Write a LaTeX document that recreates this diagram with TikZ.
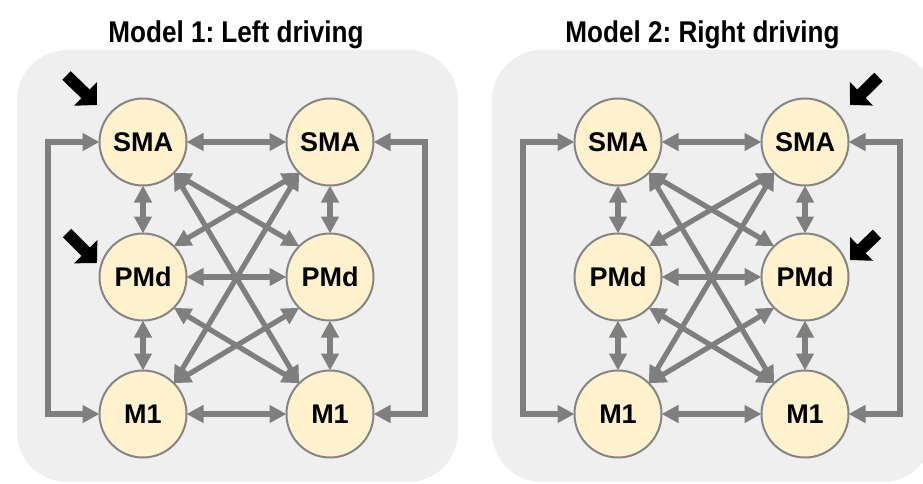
\documentclass[tikz,border=0pt]{standalone}
\usepackage{fontspec}
\setmainfont{Liberation Sans}
\usetikzlibrary{arrows.meta}
\frenchspacing
\definecolor{panelbg}{HTML}{EFEFEF}
\definecolor{nodefill}{HTML}{FFF2CC}
\definecolor{nodeline}{HTML}{858585}
\definecolor{connc}{HTML}{7F7F7F}
\tikzset{
 area/.style={circle, draw=nodeline, line width=2pt, fill=nodefill, minimum size=87pt,
   inner sep=0pt, outer sep=0pt, font=\fontsize{27}{29}\selectfont\bfseries},
 link/.style={draw=connc, line width=5.2pt,
   {Triangle[length=17pt,width=17pt]}-{Triangle[length=17pt,width=17pt]}},
 drive/.style={draw=black, line width=12pt, -{Triangle[length=16pt,width=32pt]}},
 panel/.style={fill=panelbg, rounded corners=50pt},
 ttl/.style={font=\fontsize{30}{32}\selectfont\bfseries\frenchspacing, anchor=base, inner sep=0pt}
}
\newcommand\drawnet[2]{%
 \begin{scope}[shift={(#2,0)}]
  \fill[panel] (17,50) rectangle (458,482);
  \node[area] (#1s1) at (143,142) {SMA};
  \node[area] (#1p1) at (143,277) {PMd};
  \node[area] (#1m1) at (143,414) {M1};
  \node[area] (#1s2) at (330,142) {SMA};
  \node[area] (#1p2) at (330,277) {PMd};
  \node[area] (#1m2) at (330,414) {M1};
  \coordinate (#1fl) at (48,0);
  \coordinate (#1fr) at (425,0);
 \end{scope}
 \draw[link] (#1s1.east) -- (#1s2.west);
 \draw[link] (#1p1.east) -- (#1p2.west);
 \draw[link] (#1m1.east) -- (#1m2.west);
 \draw[link] (#1s1.south) -- (#1p1.north);
 \draw[link] (#1p1.south) -- (#1m1.north);
 \draw[link] (#1s2.south) -- (#1p2.north);
 \draw[link] (#1p2.south) -- (#1m2.north);
 \draw[link] (#1s1.-45) -- (#1p2.135);
 \draw[link] (#1s1.-45) -- (#1m2.135);
 \draw[link] (#1p1.-45) -- (#1m2.135);
 \draw[link] (#1s2.-135) -- (#1p1.45);
 \draw[link] (#1s2.-135) -- (#1m1.45);
 \draw[link] (#1p2.-135) -- (#1m1.45);
 \draw[link] (#1s1.west) -- (#1s1.west -| #1fl) -- (#1m1.west -| #1fl) -- (#1m1.west);
 \draw[link] (#1s2.east) -- (#1s2.east -| #1fr) -- (#1m2.east -| #1fr) -- (#1m2.east);
}
\begin{document}
\begin{tikzpicture}[x=1pt,y=-1pt]
 \useasboundingbox (0,0) rectangle (923,483);
 \clip (0,0) rectangle (923,483);
 \drawnet{a}{0}
 \drawnet{b}{475}
 \node[ttl] (t1) at (236,42) {\scalebox{0.87}[1]{Model 1: Left driving}};
 \node[ttl] (t2) at (702.5,42) {\scalebox{0.87}[1]{Model 2: Right driving}};
 \coordinate (d1t) at (66.5,75.5); \coordinate (d1h) at (97,105);
 \coordinate (d2t) at (67,233);   \coordinate (d2h) at (97,263);
 \coordinate (d3t) at (878.5,77); \coordinate (d3h) at (850,105);
 \coordinate (d4t) at (877,234);  \coordinate (d4h) at (850,260);
 \draw[drive] (d1t) -- (d1h);
 \draw[drive] (d2t) -- (d2h);
 \draw[drive] (d3t) -- (d3h);
 \draw[drive] (d4t) -- (d4h);
\end{tikzpicture}
\end{document}
